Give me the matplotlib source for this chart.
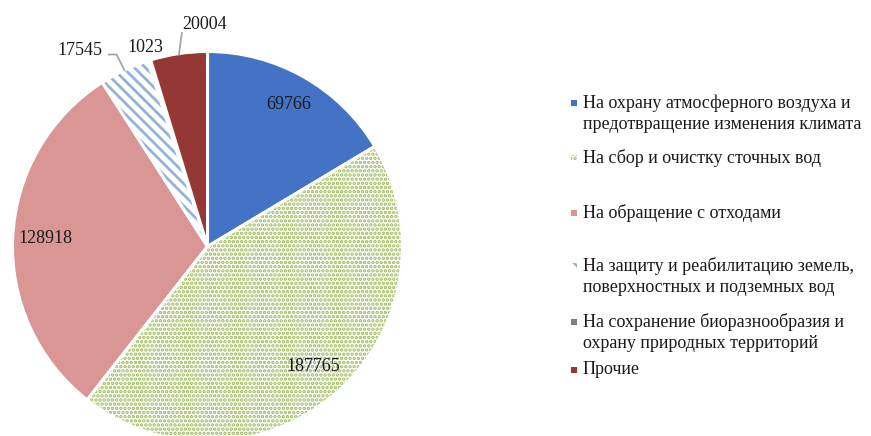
import numpy as np
import matplotlib
matplotlib.use("Agg")
import matplotlib.pyplot as plt
from matplotlib.patches import Rectangle, Wedge

plt.rcParams['font.family'] = ['Liberation Serif', 'DejaVu Serif']
plt.rcParams['hatch.linewidth'] = 1.4

categories = [
    "На охрану атмосферного воздуха и\nпредотвращение изменения климата",
    "На сбор и очистку сточных вод",
    "На обращение с отходами",
    "На защиту и реабилитацию земель,\nповерхностных и подземных вод",
    "На сохранение биоразнообразия и\nохрану природных территорий",
    "Прочие",
]
values = [69766, 187765, 128918, 17545, 1023, 20004]
value_labels = ["69766", "187765", "128918", "17545", "1023", "20004"]

face_colors = ["#4472C4", "white", "#D99694", "white", "#7F7F7F", "#953735"]
hatch_colors = [None, "#9BBB59", None, "#95B3D7", None, None]
hatches = [None, "....", None, "\\\\\\", None, None]
hatch_lws = [None, 1.7, None, 2.0, None, None]

W, H = 871, 436
fig = plt.figure(figsize=(W / 100, H / 100), dpi=100)
cx, cy, R = 207.5, 246.5, 195
ax = fig.add_axes([(cx - R) / W, (H - cy - R) / H, 2 * R / W, 2 * R / H])

wedges, _ = ax.pie(values, startangle=90, counterclock=False, radius=1.0,
                   colors=face_colors,
                   wedgeprops=dict(edgecolor='white', linewidth=2.2))
ax.set_xlim(-1, 1)
ax.set_ylim(-1, 1)
ax.set_aspect('equal')
ax.axis('off')


def set_hlw(p, lw):
    if hasattr(p, 'set_hatch_linewidth'):
        p.set_hatch_linewidth(lw)
    else:
        p._hatch_linewidth = lw


for w, hc, h, hl in zip(wedges, hatch_colors, hatches, hatch_lws):
    if h:
        w.set_hatch(h)
        w.set_edgecolor(hc)
        w.set_linewidth(0)
        set_hlw(w, hl)
        ow = Wedge(w.center, w.r, w.theta1, w.theta2, facecolor='none',
                   edgecolor='white', linewidth=2.2, zorder=w.get_zorder() + 0.5)
        ax.add_patch(ow)

fs = 13
mids = [np.deg2rad((w.theta1 + w.theta2) / 2) for w in wedges]

inside = {0: 0.84, 1: 0.82, 2: 0.83}
for i, r in inside.items():
    a = mids[i]
    ax.text(r * np.cos(a), r * np.sin(a), value_labels[i], fontsize=fs,
            ha='center', va='center', color='#1a1a1a')

lc = '#A6A6A6'
# 17545
a = mids[3]
p0 = (1.0 * np.cos(a), 1.0 * np.sin(a))
p1 = (p0[0] - 0.04, p0[1] + 0.08)
p2 = (p1[0] - 0.04, p1[1])
ax.plot([p0[0], p1[0], p2[0]], [p0[1], p1[1], p2[1]], color=lc, lw=1.3,
        clip_on=False)
ax.text(p2[0] - 0.03, p2[1] + 0.02, value_labels[3], fontsize=fs,
        ha='right', va='center', color='#1a1a1a')
# 1023
a = mids[4]
ax.text(1.04 * np.cos(a) - 0.01, 1.04 * np.sin(a) + 0.03, value_labels[4],
        fontsize=fs, ha='center', va='center', color='#1a1a1a')
# 20004
a = mids[5]
q0 = (0.995 * np.cos(a), 0.995 * np.sin(a))
q1 = (q0[0] + 0.015, q0[1] + 0.11)
ax.plot([q0[0], q1[0]], [q0[1], q1[1]], color=lc, lw=1.3, clip_on=False)
ax.text(q1[0], q1[1] + 0.0, value_labels[5], fontsize=fs,
        ha='left', va='bottom', color='#1a1a1a')

# legend (manual)
leg_y = [103, 158, 213, 266, 322, 370]
leg_x = 583
for i, (lab, y) in enumerate(zip(categories, leg_y)):
    fig.text(leg_x / W, 1 - (y - 9) / H, lab, fontsize=13, ha='left',
             va='top', color='#1a1a1a', linespacing=1.33)
    sq = Rectangle(((leg_x - 12) / W, 1 - (y + 3) / H), 6 / W, 6 / H,
                   transform=fig.transFigure, facecolor=face_colors[i],
                   edgecolor='none', linewidth=0)
    if hatches[i]:
        sq.set_facecolor('white')
        sq.set_hatch(hatches[i])
        sq.set_edgecolor(hatch_colors[i])
        set_hlw(sq, hatch_lws[i])
    fig.add_artist(sq)

fig.savefig("out.png", dpi=100)
